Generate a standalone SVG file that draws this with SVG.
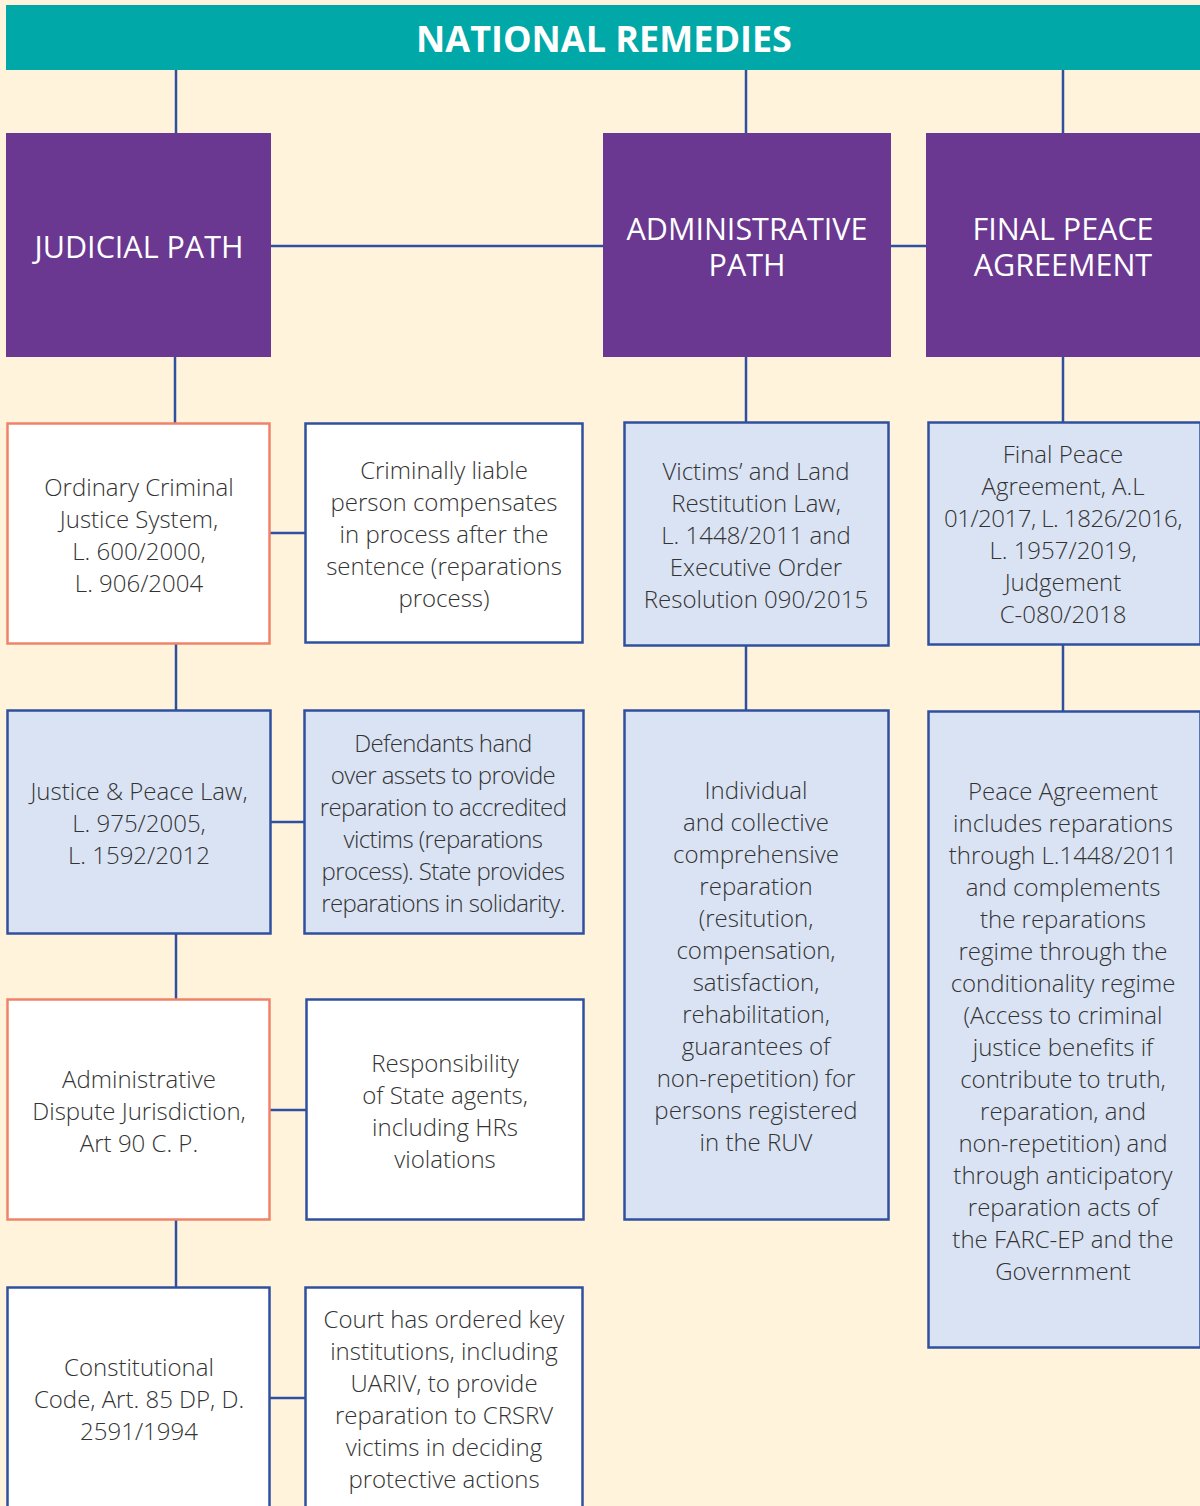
<svg xmlns="http://www.w3.org/2000/svg" width="1200" height="1506" viewBox="0 0 1200 1506">
<style>
.bg{fill:#FFF4DB}
.hdr{fill:#00A8A8}
.path{fill:#6A3890}
.wo{fill:#FFFFFF;stroke:#F0826A;stroke-width:2.5}
.wb{fill:#FFFFFF;stroke:#2F50A0;stroke-width:2.5}
.lb{fill:#DAE3F3;stroke:#2F50A0;stroke-width:2.5}
.conn line{stroke:#2F50A0;stroke-width:2.5}
text{font-family:"Open Sans","Liberation Sans",sans-serif;text-anchor:middle;dominant-baseline:central}
.t{font-size:24px;font-weight:300;fill:#333333}
.h{font-size:30.5px;font-weight:400;fill:#FFFFFF}
.title{font-size:36px;font-weight:700;fill:#FFFFFF}
</style>
<rect class="bg" x="0" y="0" width="1200" height="1506"/>
<g id="connectors" class="conn">
<line x1="176" y1="70" x2="176" y2="133"/>
<line x1="746" y1="70" x2="746" y2="133"/>
<line x1="1063" y1="70" x2="1063" y2="133"/>
<line x1="271" y1="246" x2="603" y2="246"/>
<line x1="891" y1="246" x2="926" y2="246"/>
<line x1="175" y1="357" x2="175" y2="423"/>
<line x1="746" y1="357" x2="746" y2="422"/>
<line x1="1063" y1="357" x2="1063" y2="422"/>
<line x1="176" y1="644" x2="176" y2="710"/>
<line x1="176" y1="934" x2="176" y2="999"/>
<line x1="176" y1="1220" x2="176" y2="1287"/>
<line x1="746" y1="645" x2="746" y2="710"/>
<line x1="1063" y1="644" x2="1063" y2="711"/>
<line x1="270" y1="533" x2="305" y2="533"/>
<line x1="271" y1="822" x2="304" y2="822"/>
<line x1="270" y1="1110" x2="306" y2="1110"/>
<line x1="270" y1="1398" x2="305" y2="1398"/>
</g>
<g id="header">
<rect class="hdr" x="6" y="5" width="1194" height="65"/>
<text class="title" x="604" y="38">NATIONAL REMEDIES</text>
</g>
<g id="judicial">
<rect class="path" x="6" y="133" width="265" height="224"/>
<text class="h" x="139" y="246">JUDICIAL PATH</text>
</g>
<g id="administrative">
<rect class="path" x="603" y="133" width="288" height="224"/>
<text class="h" x="747"><tspan x="747" y="228">ADMINISTRATIVE</tspan><tspan x="747" y="264">PATH</tspan></text>
</g>
<g id="finalpeace">
<rect class="path" x="926" y="133" width="274" height="224"/>
<text class="h" x="1063"><tspan x="1063" y="228">FINAL PEACE</tspan><tspan x="1063" y="264">AGREEMENT</tspan></text>
</g>
<g id="ordinary">
<rect class="wo" x="7.5" y="423.5" width="262" height="220"/>
<text class="t" x="139"><tspan x="139" y="486">Ordinary Criminal</tspan><tspan x="139" y="518">Justice System,</tspan><tspan x="139" y="550">L. 600/2000,</tspan><tspan x="139" y="582">L. 906/2004</tspan></text>
</g>
<g id="criminally">
<rect class="wb" x="305.5" y="423.5" width="277" height="219"/>
<text class="t" x="444"><tspan x="444" y="469">Criminally liable</tspan><tspan x="444" y="501">person compensates</tspan><tspan x="444" y="533">in process after the</tspan><tspan x="444" y="565">sentence (reparations</tspan><tspan x="444" y="597">process)</tspan></text>
</g>
<g id="victims">
<rect class="lb" x="624.5" y="422.5" width="264" height="223"/>
<text class="t" x="756"><tspan x="756" y="470">Victims’ and Land</tspan><tspan x="756" y="502">Restitution Law,</tspan><tspan x="756" y="534">L. 1448/2011 and</tspan><tspan x="756" y="566">Executive Order</tspan><tspan x="756" y="598">Resolution 090/2015</tspan></text>
</g>
<g id="finalpeacelaw">
<rect class="lb" x="928.5" y="422.5" width="272" height="222"/>
<text class="t" x="1063"><tspan x="1063" y="453">Final Peace</tspan><tspan x="1063" y="485">Agreement, A.L</tspan><tspan x="1063" y="517" letter-spacing="-0.5">01/2017, L. 1826/2016,</tspan><tspan x="1063" y="549">L. 1957/2019,</tspan><tspan x="1063" y="581">Judgement</tspan><tspan x="1063" y="613">C-080/2018</tspan></text>
</g>
<g id="justicepeace">
<rect class="lb" x="7.5" y="710.5" width="263" height="223"/>
<text class="t" x="139"><tspan x="139" y="790">Justice &amp; Peace Law,</tspan><tspan x="139" y="822">L. 975/2005,</tspan><tspan x="139" y="854">L. 1592/2012</tspan></text>
</g>
<g id="defendants">
<rect class="lb" x="304.5" y="710.5" width="279" height="223"/>
<text class="t" x="443" letter-spacing="-0.6"><tspan x="443" y="742">Defendants hand</tspan><tspan x="443" y="774">over assets to provide</tspan><tspan x="443" y="806">reparation to accredited</tspan><tspan x="443" y="838">victims (reparations</tspan><tspan x="443" y="870">process). State provides</tspan><tspan x="443" y="902">reparations in solidarity.</tspan></text>
</g>
<g id="individual">
<rect class="lb" x="624.5" y="710.5" width="264" height="509"/>
<text class="t" x="756"><tspan x="756" y="789">Individual</tspan><tspan x="756" y="821">and collective</tspan><tspan x="756" y="853">comprehensive</tspan><tspan x="756" y="885">reparation</tspan><tspan x="756" y="917">(resitution,</tspan><tspan x="756" y="949">compensation,</tspan><tspan x="756" y="981">satisfaction,</tspan><tspan x="756" y="1013">rehabilitation,</tspan><tspan x="756" y="1045">guarantees of</tspan><tspan x="756" y="1077">non-repetition) for</tspan><tspan x="756" y="1109">persons registered</tspan><tspan x="756" y="1141">in the RUV</tspan></text>
</g>
<g id="peaceagreement">
<rect class="lb" x="928.5" y="711.5" width="272" height="636"/>
<text class="t" x="1063"><tspan x="1063" y="790">Peace Agreement</tspan><tspan x="1063" y="822">includes reparations</tspan><tspan x="1063" y="854">through L.1448/2011</tspan><tspan x="1063" y="886">and complements</tspan><tspan x="1063" y="918">the reparations</tspan><tspan x="1063" y="950">regime through the</tspan><tspan x="1063" y="982">conditionality regime</tspan><tspan x="1063" y="1014">(Access to criminal</tspan><tspan x="1063" y="1046">justice benefits if</tspan><tspan x="1063" y="1078">contribute to truth,</tspan><tspan x="1063" y="1110">reparation, and</tspan><tspan x="1063" y="1142">non-repetition) and</tspan><tspan x="1063" y="1174">through anticipatory</tspan><tspan x="1063" y="1206">reparation acts of</tspan><tspan x="1063" y="1238">the FARC-EP and the</tspan><tspan x="1063" y="1270">Government</tspan></text>
</g>
<g id="adminjurisdiction">
<rect class="wo" x="7.5" y="999.5" width="262" height="220"/>
<text class="t" x="139"><tspan x="139" y="1078">Administrative</tspan><tspan x="139" y="1110">Dispute Jurisdiction,</tspan><tspan x="139" y="1142">Art 90 C. P.</tspan></text>
</g>
<g id="responsibility">
<rect class="wb" x="306.5" y="999.5" width="277" height="220"/>
<text class="t" x="445"><tspan x="445" y="1062">Responsibility</tspan><tspan x="445" y="1094">of State agents,</tspan><tspan x="445" y="1126">including HRs</tspan><tspan x="445" y="1158">violations</tspan></text>
</g>
<g id="constitutional">
<rect class="wb" x="7.5" y="1287.5" width="262" height="230"/>
<text class="t" x="139"><tspan x="139" y="1366">Constitutional</tspan><tspan x="139" y="1398">Code, Art. 85 DP, D.</tspan><tspan x="139" y="1430">2591/1994</tspan></text>
</g>
<g id="court">
<rect class="wb" x="305.5" y="1287.5" width="277" height="230"/>
<text class="t" x="444"><tspan x="444" y="1318">Court has ordered key</tspan><tspan x="444" y="1350">institutions, including</tspan><tspan x="444" y="1382">UARIV, to provide</tspan><tspan x="444" y="1414">reparation to CRSRV</tspan><tspan x="444" y="1446">victims in deciding</tspan><tspan x="444" y="1478">protective actions</tspan></text>
</g>
</svg>
